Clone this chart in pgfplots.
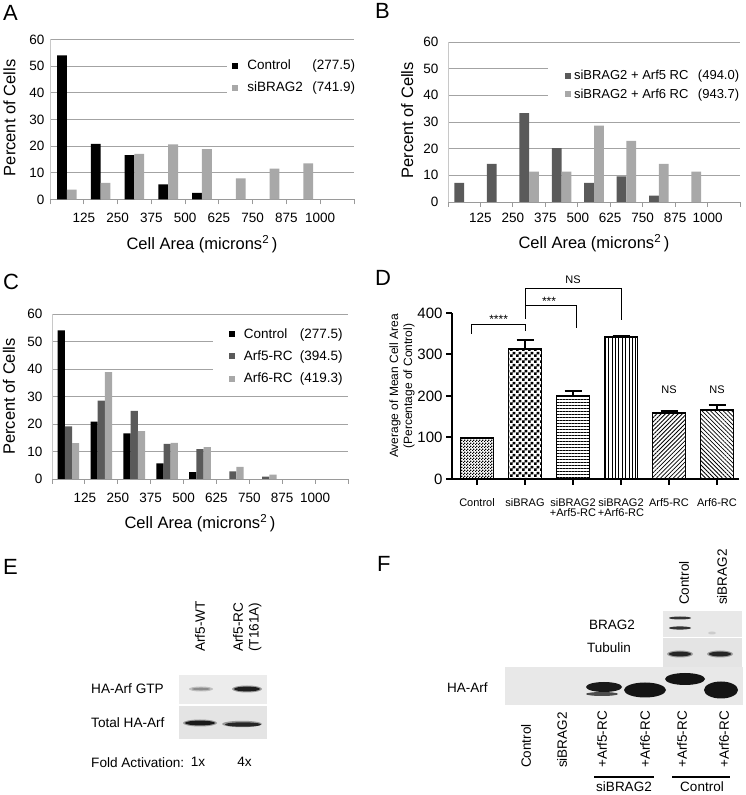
\documentclass[border=0pt]{standalone}
\usepackage{fontspec}
\setmainfont{Liberation Sans}
\usepackage{pgfplots}
\pgfplotsset{compat=1.18}
\usetikzlibrary{patterns,patterns.meta}

\definecolor{dgray}{HTML}{5A5A5A}
\definecolor{lgray}{HTML}{A8A8A8}
\definecolor{gridc}{HTML}{A3A3A3}
\definecolor{axc}{HTML}{9A9A9A}
\definecolor{blotbg}{HTML}{E4E4E4}

\pgfdeclarepatternformonly{bigcheck}{\pgfpointorigin}{\pgfqpoint{6pt}{6pt}}{\pgfqpoint{6pt}{6pt}}{%
 \pgfpathrectangle{\pgfpointorigin}{\pgfqpoint{3pt}{3pt}}%
 \pgfpathrectangle{\pgfqpoint{3pt}{3pt}}{\pgfqpoint{3pt}{3pt}}%
 \pgfusepath{fill}}
\pgfdeclarepatternformonly{smallcheck}{\pgfpointorigin}{\pgfqpoint{2.6pt}{2.6pt}}{\pgfqpoint{2.6pt}{2.6pt}}{%
 \pgfpathrectangle{\pgfpointorigin}{\pgfqpoint{1.3pt}{1.3pt}}%
 \pgfpathrectangle{\pgfqpoint{1.3pt}{1.3pt}}{\pgfqpoint{1.3pt}{1.3pt}}%
 \pgfusepath{fill}}

\newcommand{\fs}[2]{\fontsize{#1}{#2}\selectfont}

\pgfplotsset{
 sqlegend/.style={legend image code/.code={\fill[##1] (0pt,-3pt) rectangle (6pt,3pt);}},
 histo/.style={scale only axis, ybar, ymin=0, ymax=60, xmin=0, xmax=9, ytick={0,10,...,60},
   xtick={0,...,9}, xticklabels={{},125,250,375,500,625,750,875,1000,{}},
   axis x line*=bottom, axis y line*=left,
   x axis line style={draw=axc, line width=0.9pt, -},
   y axis line style={draw=gridc!60, line width=0.7pt, -},
   ymajorgrids, major grid style={draw=gridc, line width=0.9pt},
   xtick align=outside, major tick length=5pt,
   xtick style={draw=axc, line width=0.9pt},
   ytick style={draw=none},
   tick label style={font=\fs{13.5}{15}},
   /pgf/number format/assume math mode=true,
   xticklabel style={yshift=-5.5pt},
   xlabel={Cell Area (microns\textsuperscript{2}\,)}, ylabel={Percent of Cells},
   label style={font=\fs{16.5}{18}},
   clip=false,
   legend style={draw=none, fill=none, inner sep=0pt, font=\fs{13.5}{15},
     cells={anchor=west}, nodes={inner sep=1pt}, column sep=8pt},
 }}

\begin{document}
\begin{tikzpicture}
\useasboundingbox (0pt,0pt) rectangle (745pt,795pt);

% ---------------- Panel A ----------------
\begin{axis}[histo, at={(50pt,595.5pt)}, width=304pt, height=160pt, bar width=9.8pt,
  xlabel style={at={(axis description cs:0.5,0)}, yshift=-44.5pt, anchor=center},
  ylabel style={at={(axis description cs:-0.133,0.51)}, anchor=center},
  yticklabel style={xshift=-2pt},
  legend style={at={(axis description cs:0.599,0.88)}, anchor=north west, row sep=9pt}]
\fill[white] (axis description cs:0.582,0.58) rectangle (axis description cs:1.0,0.93);
\addplot[fill=black, draw=none, bar shift=-4.9pt, sqlegend] coordinates {(0.5,54) (1.5,20.9) (2.5,16.6) (3.5,5.7) (4.5,2.5)};
\addlegendentry{\makebox[65pt][l]{Control}(277.5)}
\addplot[fill=lgray, draw=none, bar shift=4.9pt, sqlegend] coordinates {(0.5,3.7) (1.5,6.2) (2.5,17.1) (3.5,20.7) (4.5,18.9) (5.5,7.9) (6.5,11.6) (7.5,13.5)};
\addlegendentry{\makebox[65pt][l]{siBRAG2}(741.9)}
\end{axis}

% ---------------- Panel B ----------------
\begin{axis}[histo, at={(448pt,593pt)}, width=292pt, height=160pt, bar width=9.8pt,
  xticklabel style={yshift=3pt},
  xlabel style={at={(axis description cs:0.5,0)}, yshift=-41pt, anchor=center},
  ylabel style={at={(axis description cs:-0.140,0.51)}, anchor=center},
  yticklabel style={xshift=-6pt},
  legend style={at={(axis description cs:0.40,0.83)}, anchor=north west, row sep=5.5pt,
     column sep=2pt, font=\fs{13}{14}}]
\fill[white] (axis description cs:0.342,0.6) rectangle (axis description cs:1.0,0.9);
\addplot[fill=dgray, draw=none, bar shift=-4.9pt, sqlegend] coordinates {(0.5,7.2) (1.5,14.3) (2.5,33.3) (3.5,20.2) (4.5,7.2) (5.5,9.6) (6.5,2.4)};
\addlegendentry{\makebox[124pt][l]{siBRAG2 + Arf5 RC}(494.0)}
\addplot[fill=lgray, draw=none, bar shift=4.9pt, sqlegend] coordinates {(2.5,11.4) (3.5,11.4) (4.5,28.6) (5.5,22.9) (6.5,14.3) (7.5,11.4)};
\addlegendentry{\makebox[124pt][l]{siBRAG2 + Arf6 RC}(943.7)}
\end{axis}

% ---------------- Panel C ----------------
\begin{axis}[histo, at={(52pt,316pt)}, width=296pt, height=165pt, bar width=7.2pt,
  xlabel style={at={(axis description cs:0.5,0)}, yshift=-44pt, anchor=center},
  ylabel style={at={(axis description cs:-0.145,0.5)}, anchor=center},
  yticklabel style={xshift=-6pt},
  legend style={at={(axis description cs:0.597,0.92)}, anchor=north west, row sep=9pt}]
\fill[white] (axis description cs:0.544,0.55) rectangle (axis description cs:1.0,0.95);
\addplot[fill=black, draw=none, bar shift=-7.2pt, sqlegend] coordinates {(0.5,54) (1.5,20.9) (2.5,16.6) (3.5,5.7) (4.5,2.5)};
\addlegendentry{\makebox[56pt][l]{Control}(277.5)}
\addplot[fill=dgray, draw=none, bar shift=0pt, sqlegend] coordinates {(0.5,19.1) (1.5,28.5) (2.5,24.8) (3.5,12.8) (4.5,10.9) (5.5,2.8) (6.5,0.9)};
\addlegendentry{\makebox[56pt][l]{Arf5-RC}(394.5)}
\addplot[fill=lgray, draw=none, bar shift=7.2pt, sqlegend] coordinates {(0.5,13.0) (1.5,38.9) (2.5,17.4) (3.5,13.1) (4.5,11.6) (5.5,4.4) (6.5,1.6)};
\addlegendentry{\makebox[56pt][l]{Arf6-RC}(419.3)}
\end{axis}

% ---------------- Panel D ----------------
\begin{axis}[scale only axis, at={(452pt,316pt)}, width=287pt, height=166pt,
  xmin=0.479, xmax=6.458, ymin=0, ymax=400, ytick={0,100,...,400},
  xtick={1,...,6},
  xticklabels={Control, siBRAG, {siBRAG2\\+Arf5-RC}, {siBRAG2\\+Arf6-RC}, Arf5-RC, Arf6-RC},
  xticklabel style={align=center, font=\fs{11}{10}, yshift=-10pt},
  yticklabel style={font=\fs{15}{16}},
  /pgf/number format/assume math mode=true,
  axis x line*=bottom, axis y line*=left,
  axis line style={line width=2.2pt, -},
  tick align=outside, major tick length=6pt, tick style={line width=2pt, black},
  ylabel={Average of Mean Cell Area\\(Percentage of Control)},
  ylabel style={align=center, font=\fs{12}{14}, at={(axis description cs:-0.174,0.56)}, anchor=center},
  ybar, bar width=33pt, clip=false,
  error bars/y dir=plus, error bars/y explicit,
  error bars/error bar style={line width=1.8pt},
  error bars/error mark options={line width=1.8pt, mark size=8.5pt, rotate=90}]
\addplot[bar shift=0pt, draw=black, line width=1.9pt, pattern=smallcheck] coordinates {(1,99.5) +- (0,0)};
\addplot[bar shift=0pt, draw=black, line width=1.9pt, pattern=bigcheck] coordinates {(2,313.5) +- (0,21.5)};
\addplot[bar shift=0pt, draw=black, line width=1.9pt, pattern={Lines[angle=0, distance=3pt, line width=0.9pt]}] coordinates {(3,199.6) +- (0,13.4)};
\addplot[bar shift=0pt, draw=black, line width=1.9pt, pattern={Lines[angle=90, distance=3.4pt, line width=0.9pt]}] coordinates {(4,342.6) +- (0,3)};
\addplot[bar shift=0pt, draw=black, line width=1.9pt, pattern={Lines[angle=45, distance=3pt, line width=0.8pt]}] coordinates {(5,159) +- (0,5)};
\addplot[bar shift=0pt, draw=black, line width=1.9pt, pattern={Lines[angle=-45, distance=3pt, line width=0.8pt]}] coordinates {(6,165.6) +- (0,12.2)};
\draw[line width=1pt] (axis cs:0.88,350) -- (axis cs:0.88,373) -- (axis cs:2,373) -- (axis cs:2,357);
\draw[line width=1pt] (axis cs:2,385) -- (axis cs:2,458) -- (axis cs:4,458) -- (axis cs:4,384);
\draw[line width=1pt] (axis cs:2,418.6) -- (axis cs:3.08,418.6) -- (axis cs:3.08,363.6);
\node[font=\fs{12}{13}] at (axis cs:1.45,384) {****};
\node[font=\fs{12}{13}] at (axis cs:2.5,428) {***};
\node[font=\fs{11}{12}] at (axis cs:3.0,479) {NS};
\node[font=\fs{11}{12}] at (axis cs:5,214) {NS};
\node[font=\fs{11}{12}] at (axis cs:6,214) {NS};
\end{axis}

% ---------------- Letters, E and F ----------------
\begin{scope}[shift={(0pt,795pt)}, x=1pt, y=-1pt]
\node[anchor=north west, inner sep=0pt, font=\fs{22}{24}] at (3,5) {A};
\node[anchor=north west, inner sep=0pt, font=\fs{22}{24}] at (375,3) {B};
\node[anchor=north west, inner sep=0pt, font=\fs{22}{24}] at (3,274) {C};
\node[anchor=north west, inner sep=0pt, font=\fs{22}{24}] at (375,270) {D};
\node[anchor=north west, inner sep=0pt, font=\fs{22}{24}] at (3,559) {E};
\node[anchor=north west, inner sep=0pt, font=\fs{22}{24}] at (377,556) {F};

% Panel E
\begin{scope}[every node/.style={font=\fs{13.6}{15}}]
\node[rotate=90, anchor=west, inner sep=0pt] at (200,652) {Arf5-WT};
\node[rotate=90, anchor=west, inner sep=0pt] at (238,652) {Arf5-RC};
\node[rotate=90, anchor=west, inner sep=0pt] at (255,652) {(T161A)};
\fill[blotbg!70] (179,675) rectangle (267,704);
\fill[blotbg] (179,706) rectangle (267,739);
\fill[black!25] (201,689) ellipse [x radius=12, y radius=2.5];
\fill[black!45] (201,689) ellipse [x radius=9, y radius=1.3];
\fill[black!40] (247,689) ellipse [x radius=15, y radius=3.5];
\fill[black!88] (247,689) ellipse [x radius=13, y radius=2.4];
\fill[black!40] (200,723) ellipse [x radius=17, y radius=3.5];
\fill[black!90] (200,723) ellipse [x radius=15, y radius=2.4];
\fill[black!40] (242,724) ellipse [x radius=20, y radius=3.2];
\fill[black!85] (243,724.5) ellipse [x radius=18, y radius=2.2];
\node[anchor=west, inner sep=0pt] at (91,689) {HA-Arf GTP};
\node[anchor=west, inner sep=0pt] at (91,723) {Total HA-Arf};
\node[anchor=west, inner sep=0pt] at (91,763) {Fold Activation:};
\node[inner sep=0pt] at (198,762) {1x};
\node[inner sep=0pt] at (244.5,762) {4x};
\end{scope}

% Panel F
\begin{scope}[every node/.style={font=\fs{13.5}{15}}]
\node[rotate=90, anchor=west, inner sep=0pt] at (684,605) {Control};
\node[rotate=90, anchor=west, inner sep=0pt] at (722,605) {siBRAG2};
\fill[blotbg!85] (663,611) rectangle (742,637);
\fill[blotbg] (663,638) rectangle (742,668);
\fill[black!80] (680,618) ellipse [x radius=11, y radius=1.5];
\fill[black!80] (680,628) ellipse [x radius=11, y radius=1.6];
\fill[black!20] (712,633) ellipse [x radius=4, y radius=1.5];
\fill[black!40] (680,654) ellipse [x radius=13, y radius=3.5];
\fill[black!85] (680,654) ellipse [x radius=11, y radius=2.4];
\fill[black!40] (720,654) ellipse [x radius=13, y radius=3.5];
\fill[black!85] (720,654) ellipse [x radius=11, y radius=2.4];
\node[anchor=west, inner sep=0pt] at (589,625) {BRAG2};
\node[anchor=west, inner sep=0pt] at (587,648) {Tubulin};
\fill[blotbg!85] (505,667) rectangle (743,705);
\fill[black!90] (604,687) ellipse [x radius=18, y radius=5];
\fill[black!70] (602,694) ellipse [x radius=16, y radius=2];
\fill[black!92] (645,690) ellipse [x radius=21, y radius=7.5];
\fill[black!92] (685,679) ellipse [x radius=20, y radius=6];
\fill[black!92] (721,690) ellipse [x radius=17, y radius=8.5];
\node[anchor=west, inner sep=0pt] at (447,688) {HA-Arf};
\node[rotate=90, anchor=west, inner sep=0pt] at (526,768) {Control};
\node[rotate=90, anchor=west, inner sep=0pt] at (562,768) {siBRAG2};
\node[rotate=90, anchor=west, inner sep=0pt] at (602,768) {+Arf5-RC};
\node[rotate=90, anchor=west, inner sep=0pt] at (645,768) {+Arf6-RC};
\node[rotate=90, anchor=west, inner sep=0pt] at (682,768) {+Arf5-RC};
\node[rotate=90, anchor=west, inner sep=0pt] at (724,768) {+Arf6-RC};
\draw[line width=1.2pt] (594,777) -- (654,777);
\draw[line width=1.2pt] (672,777) -- (730,777);
\node[inner sep=0pt] at (624,787) {siBRAG2};
\node[inner sep=0pt] at (702,787) {Control};
\end{scope}
\end{scope}
\end{tikzpicture}
\end{document}
